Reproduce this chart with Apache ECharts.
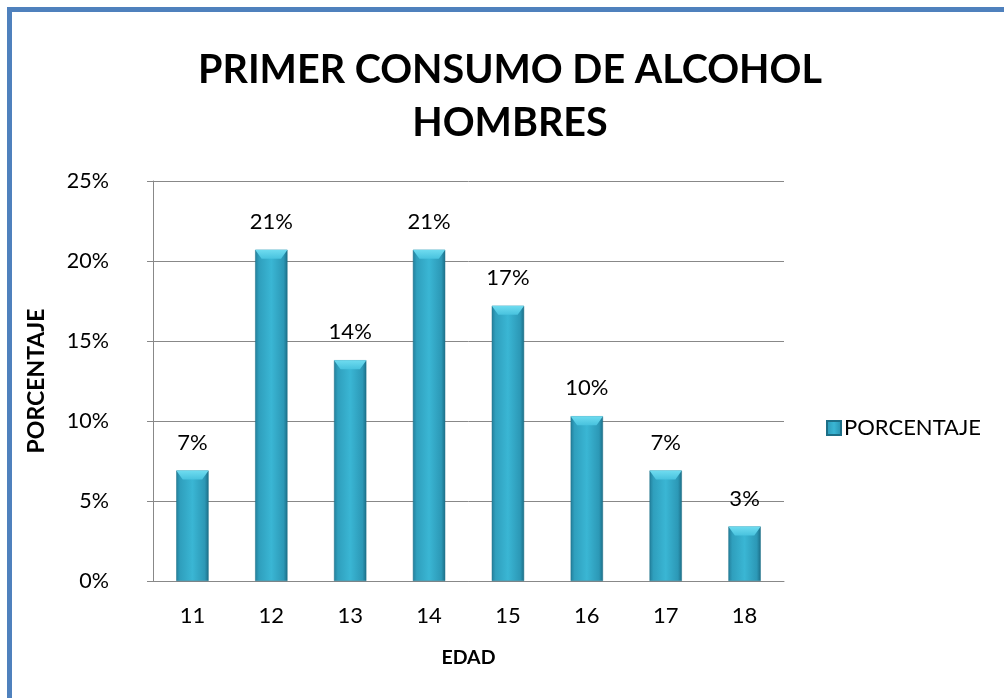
<!DOCTYPE html>
<html>
<head>
<meta charset="utf-8">
<script src="https://cdn.jsdelivr.net/npm/echarts@6/dist/echarts.min.js"></script>
<style>
  html, body { margin: 0; padding: 0; background: #fff; }
  #frame {
    position: absolute; left: 7px; top: 7px; width: 1010px; height: 710px;
    border-left: 5px solid #4f81bd; border-top: 5px solid #4f81bd;
    box-sizing: border-box;
  }
  #chart { position: absolute; left: 0; top: 0; width: 1004px; height: 698px; }
</style>
</head>
<body>
<div id="frame"></div>
<div id="chart"></div>
<script>
// edades
const categories = ['11', '12', '13', '14', '15', '16', '17', '18'];
// porcentaje (fracción)
const values = [0.069, 0.207, 0.138, 0.207, 0.172, 0.103, 0.069, 0.034];
const barLabels = ['7%', '21%', '14%', '21%', '17%', '10%', '7%', '3%'];
const yTicks = [0, 0.05, 0.10, 0.15, 0.20, 0.25];

const font = 'Lato, "Open Sans", "Liberation Sans", sans-serif';

const barColor = new echarts.graphic.LinearGradient(0, 0, 1, 0, [
  { offset: 0, color: '#237f9b' },
  { offset: 0.12, color: '#2f9fbd' },
  { offset: 0.5, color: '#3ab6d4' },
  { offset: 0.88, color: '#2c98b6' },
  { offset: 1, color: '#1c6e87' },
]);
const bevelColor = new echarts.graphic.LinearGradient(0, 0, 0, 1, [
  { offset: 0, color: '#6fdcf0' },
  { offset: 1, color: '#48c2de' },
]);

const chart = echarts.init(document.getElementById('chart'));
chart.setOption({
  animation: false,
  title: {
    text: 'PRIMER CONSUMO DE ALCOHOL\nHOMBRES',
    left: 505,
    top: 39,
    textAlign: 'center',
    textStyle: {
      fontFamily: font, fontWeight: 'bold', fontSize: 39.5, color: '#000', lineHeight: 53,
    },
  },
  legend: {
    left: 821,
    top: 412,
    itemWidth: 14,
    itemHeight: 14,
    itemGap: 6,
    icon: 'rect',
    textStyle: { fontFamily: font, fontSize: 22, color: '#000', padding: [0, 0, 0, -2] },
    data: ['PORCENTAJE'],
  },
  grid: { left: 153, right: 220, top: 181, bottom: 117 },
  xAxis: {
    type: 'category',
    data: categories,
    name: 'EDAD',
    nameLocation: 'middle',
    nameGap: 67,
    nameTextStyle: { fontFamily: font, fontWeight: 'bold', fontSize: 19.5, color: '#000' },
    axisLine: { lineStyle: { color: '#888' } },
    axisTick: { show: false },
    axisLabel: { fontFamily: font, fontSize: 22, color: '#000', margin: 24 },
  },
  yAxis: {
    type: 'value',
    min: 0,
    max: 0.25,
    interval: 0.05,
    name: 'PORCENTAJE',
    nameLocation: 'middle',
    nameGap: 105,
    nameTextStyle: { fontFamily: font, fontWeight: 'bold', fontSize: 23, color: '#000' },
    axisLine: { show: true, lineStyle: { color: '#888' } },
    axisTick: { show: true, length: 6, lineStyle: { color: '#888' } },
    splitLine: { lineStyle: { color: '#888', width: 1 } },
    axisLabel: {
      fontFamily: font, fontSize: 21.5, color: '#000', margin: 44,
      formatter: v => {
        const i = yTicks.findIndex(t => Math.abs(t - v) < 1e-9);
        return Math.round(yTicks[i] * 100) + '%';
      },
    },
  },
  series: [{
    name: 'PORCENTAJE',
    type: 'bar',
    data: values,
    barWidth: '41%',
    z: 2,
    itemStyle: { color: barColor, borderColor: '#1d6f87', borderWidth: 0.5 },
    label: {
      show: true,
      position: 'top',
      distance: 17,
      fontFamily: font,
      fontSize: 22,
      color: '#000',
      formatter: p => barLabels[p.dataIndex],
    },
  }, {
    // bevel on top of each bar
    type: 'pictorialBar',
    data: values,
    barWidth: '41%',
    barGap: '-100%',
    z: 3,
    silent: true,
    symbol: 'path://M0,0 L20,0 L16,4 L4,4 Z',
    symbolSize: ['100%', 9],
    symbolPosition: 'end',
    symbolOffset: [0, 0],
    itemStyle: { color: bevelColor },
  }],
});
</script>
</body>
</html>
